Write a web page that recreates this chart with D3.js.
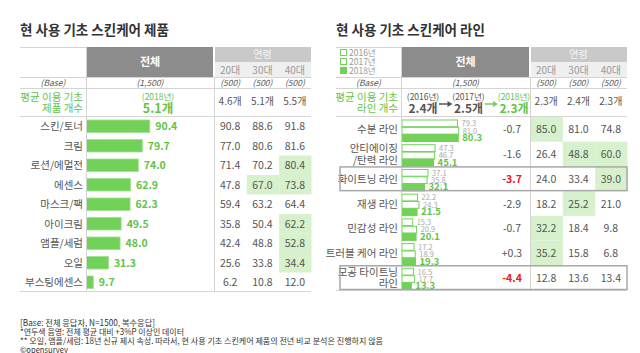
<!DOCTYPE html>
<html>
<head>
<meta charset="utf-8">
<script src="https://cdn.jsdelivr.net/npm/d3@7"></script>
<style>
  body { margin: 0; background: #fff; }
  svg { display: block; font-family: 'Noto Sans CJK KR', 'Noto Sans', sans-serif; }
</style>
</head>
<body>
<script>
// ---- data: left table (products) ----
const products = ['스킨/토너', '크림', '로션/에멀전', '에센스', '마스크/팩', '아이크림', '앰플/세럼', '오일', '부스팅에센스'];
const productTotal = [90.4, 79.7, 74.0, 62.9, 62.3, 49.5, 48.0, 31.3, 9.7];
const product20 = [90.8, 77.0, 71.4, 47.8, 59.4, 35.8, 42.4, 25.6, 6.2];
const product30 = [88.6, 80.6, 70.2, 67.0, 63.2, 50.4, 48.8, 33.8, 10.8];
const product40 = [91.8, 81.6, 80.4, 73.8, 64.4, 62.2, 52.8, 34.4, 12.0];
const productAvgAge = ['4.6개', '5.1개', '5.5개'];

// ---- data: right table (lines) ----
const lines = ['수분 라인', '안티에이징\n/탄력 라인', '화이트닝 라인', '재생 라인', '민감성 라인', '트러블 케어 라인', '모공 타이트닝\n라인'];
const line2016 = [79.3, 47.3, 37.1, 22.2, 15.3, 17.2, 16.5];
const line2017 = [81.0, 46.7, 35.8, 24.3, 20.9, 18.9, 17.7];
const line2018 = [80.3, 45.1, 32.1, 21.5, 20.1, 19.3, 13.3];
const lineDiff = ['-0.7', '-1.6', '-3.7', '-2.9', '-0.7', '+0.3', '-4.4'];
const line20 = [85.0, 26.4, 24.0, 18.2, 32.2, 35.2, 12.8];
const line30 = [81.0, 48.8, 33.4, 25.2, 18.4, 15.8, 13.6];
const line40 = [74.8, 60.0, 39.0, 21.0, 9.8, 6.8, 13.4];
const boxedLines = ['화이트닝 라인', '모공 타이트닝\n라인'];
const lineAvgYears = ['(2016년)', '(2017년)', '(2018년)'];
const lineAvgCounts = ['2.4개', '2.5개', '2.3개'];
const lineAvgAge = ['2.3개', '2.4개', '2.3개'];

const ages = ['20대', '30대', '40대'];
const years = ['2016년', '2017년', '2018년'];
const footnotes = [
  '[Base: 전체 응답자, N=1500, 복수응답]',
  '*연두색 음영: 전체 평균 대비 +3%P 이상인 데이터',
  '** 오일, 앰플/세럼: 18년 신규 제시 속성. 따라서, 현 사용 기초 스킨케어 제품의 전년 비교 분석은 진행하지 않음',
  '©opensurvey'
];
const footWidths = [135, 164, 363, 48];

const GREEN = '#72d158', GREEN_TXT = '#62c446', HILITE = '#d6f1cb', TXT = '#555', LINE = '#d4d4d4';

const svg = d3.select('body').append('svg').attr('width', 640).attr('height', 353);
const barLen = d3.scaleLinear().domain([0, 100]).range([0, 70]);

// shared header drawing
function header(g, x0, c1, c2, x1, title) {
  g.append('text').attr('x', x0).attr('y', 35).attr('font-size', 13.5).attr('font-weight', 700)
    .attr('fill', '#333').text(title);
  g.append('rect').attr('x', c1).attr('y', 47).attr('width', c2 - c1 - 1).attr('height', 30).attr('fill', '#8c8c8c');
  g.append('text').attr('x', (c1 + c2) / 2).attr('y', 66).attr('text-anchor', 'middle')
    .attr('font-size', 11).attr('font-weight', 700).attr('fill', '#fff').text('전체');
  g.append('rect').attr('x', c2 + 1).attr('y', 47).attr('width', x1 - c2 - 1).attr('height', 15).attr('fill', '#c9c9c9');
  g.append('rect').attr('x', c2 + 1).attr('y', 62).attr('width', x1 - c2 - 1).attr('height', 15).attr('fill', '#efefef');
  g.append('text').attr('x', (c2 + x1) / 2).attr('y', 58).attr('text-anchor', 'middle')
    .attr('font-size', 10).attr('fill', '#f4f4f4').text('연령');
  const ax = d3.scaleBand().domain(ages).range([c2, x1]);
  g.selectAll('.agehd').data(ages).enter().append('text')
    .attr('x', d => ax(d) + ax.bandwidth() / 2).attr('y', 74).attr('text-anchor', 'middle')
    .attr('font-size', 10).attr('fill', '#999').text(d => d);
  // base row
  g.append('line').attr('x1', x0).attr('x2', c1).attr('y1', 47.5).attr('y2', 47.5).attr('stroke', LINE);
  g.append('line').attr('x1', x0).attr('x2', x1).attr('y1', 77.5).attr('y2', 77.5).attr('stroke', LINE);
  g.append('line').attr('x1', x0).attr('x2', x1).attr('y1', 88.5).attr('y2', 88.5).attr('stroke', LINE);
  g.append('line').attr('x1', x0).attr('x2', x1).attr('y1', 116.5).attr('y2', 116.5).attr('stroke', LINE);
  const it = g.append('g').attr('font-size', 8.5).attr('font-style', 'italic').attr('fill', TXT).attr('text-anchor', 'middle');
  it.append('text').attr('x', (x0 + c1) / 2).attr('y', 85.5).text('(Base)');
  it.append('text').attr('x', (c1 + c2) / 2).attr('y', 85.5).text('(1,500)');
  ages.forEach(a => it.append('text').attr('x', ax(a) + ax.bandwidth() / 2).attr('y', 85.5).text('(500)'));
  return ax;
}

// ================= LEFT TABLE =================
{
  const x0 = 20, c1 = 86, c2 = 214, x1 = 311;
  const g = svg.append('g');
  const ax = header(g, x0, c1, c2, x1, '현 사용 기초 스킨케어 제품');
  const y = d3.scaleBand().domain(products).range([116.5, 292]);

  // avg row
  g.append('text').attr('x', 83).attr('y', 100.5).attr('text-anchor', 'end').attr('font-size', 10.5).attr('fill', GREEN_TXT).text('평균 이용 기초');
  g.append('text').attr('x', 83).attr('y', 112).attr('text-anchor', 'end').attr('font-size', 10.5).attr('fill', GREEN_TXT).text('제품 개수');
  g.append('text').attr('x', 158).attr('y', 99.5).attr('text-anchor', 'middle').attr('font-size', 8.5).attr('fill', GREEN_TXT).text('(2018년)');
  g.append('text').attr('x', 158).attr('y', 112.5).attr('text-anchor', 'middle').attr('font-size', 12.5).attr('font-weight', 700).attr('fill', GREEN_TXT).text('5.1개');
  g.selectAll('.avgage').data(productAvgAge).enter().append('text')
    .attr('x', (d, i) => ax(ages[i]) + ax.bandwidth() / 2).attr('y', 105).attr('text-anchor', 'middle')
    .attr('font-size', 10).attr('fill', TXT).text(d => d);

  // highlight cells
  const ageVals = [product20, product30, product40];
  products.forEach((p, i) => {
    ageVals.forEach((arr, k) => {
      if (arr[i] >= productTotal[i] + 3) {
        g.append('rect').attr('x', ax(ages[k]) + 0.5).attr('y', y(p)).attr('width', ax.bandwidth()).attr('height', y.bandwidth()).attr('fill', HILITE);
      }
      g.append('text').attr('x', ax(ages[k]) + ax.bandwidth() / 2).attr('y', y(p) + y.bandwidth() / 2 + 4)
        .attr('text-anchor', 'middle').attr('font-size', 10.5).attr('fill', TXT).text(arr[i].toFixed(1));
    });
  });

  // labels + bars
  g.selectAll('.lab').data(products).enter().append('text')
    .attr('x', 83).attr('y', d => y(d) + y.bandwidth() / 2 + 4).attr('text-anchor', 'end')
    .attr('font-size', 10.5).attr('fill', TXT).text(d => d);
  g.selectAll('.bar').data(productTotal).enter().append('rect')
    .attr('x', c1 + 0.5).attr('y', (d, i) => y(products[i]) + y.bandwidth() / 2 - 6.25)
    .attr('width', d => barLen(d)).attr('height', 12.5).attr('fill', GREEN).attr('stroke', '#9fe08c').attr('stroke-width', 0.8);
  g.selectAll('.val').data(productTotal).enter().append('text')
    .attr('x', d => c1 + barLen(d) + 6).attr('y', (d, i) => y(products[i]) + y.bandwidth() / 2 + 4)
    .attr('font-size', 10.5).attr('font-weight', 700).attr('fill', GREEN_TXT).text(d => d.toFixed(1));

  // grid lines
  g.append('line').attr('x1', c1 + 0.5).attr('x2', c1 + 0.5).attr('y1', 47).attr('y2', 292).attr('stroke', LINE);
  g.append('line').attr('x1', c2 + 0.5).attr('x2', c2 + 0.5).attr('y1', 77).attr('y2', 292).attr('stroke', LINE);
  g.append('line').attr('x1', x0).attr('x2', x1).attr('y1', 291.5).attr('y2', 291.5).attr('stroke', LINE);
}

// ================= RIGHT TABLE =================
{
  const x0 = 336, c1 = 401, c2 = 530, x1 = 627;
  const g = svg.append('g');
  const ax = header(g, x0, c1, c2, x1, '현 사용 기초 스킨케어 라인');
  const y = d3.scaleBand().domain(lines).range([117, 290]);
  const yy = d3.scaleBand().domain(years).range([3, 24.5]).paddingInner(0.08);

  // legend
  const lg = g.selectAll('.lg').data(years).enter().append('g')
    .attr('transform', (d, i) => `translate(${x0 + 4},${49 + i * 9})`);
  lg.append('rect').attr('x', 0.5).attr('y', 0.5).attr('width', 6).attr('height', 6)
    .attr('fill', (d, i) => i === 2 ? GREEN : '#fff').attr('stroke', GREEN);
  lg.append('text').attr('x', 9).attr('y', 7).attr('font-size', 8.5).attr('fill', '#999').text(d => d);

  // avg row
  g.append('text').attr('x', 398).attr('y', 100.5).attr('text-anchor', 'end').attr('font-size', 10.5).attr('fill', GREEN_TXT).text('평균 이용 기초');
  g.append('text').attr('x', 398).attr('y', 112).attr('text-anchor', 'end').attr('font-size', 10.5).attr('fill', GREEN_TXT).text('라인 개수');
  const px = d3.scalePoint().domain(lineAvgYears).range([423, 514]);
  lineAvgYears.forEach((t, i) => {
    const col = i === 2 ? GREEN_TXT : '#555';
    g.append('text').attr('x', px(t)).attr('y', 99.5).attr('text-anchor', 'middle').attr('font-size', 8.5).attr('fill', col).text(t);
    g.append('text').attr('x', px(t)).attr('y', 112.5).attr('text-anchor', 'middle').attr('font-size', 12).attr('font-weight', 700).attr('fill', col).text(lineAvgCounts[i]);
    if (i > 0) {
      const ac = i === 2 ? GREEN : '#555';
      const xa = px(lineAvgYears[i - 1]) + 16, xb = px(t) - 16;
      g.append('line').attr('x1', xa).attr('x2', xb - 4).attr('y1', 104).attr('y2', 104).attr('stroke', ac).attr('stroke-width', 1.5);
      g.append('path').attr('d', `M${xb - 5},101 L${xb},104 L${xb - 5},107 Z`).attr('fill', ac);
    }
  });
  g.selectAll('.avgage').data(lineAvgAge).enter().append('text')
    .attr('x', (d, i) => ax(ages[i]) + ax.bandwidth() / 2).attr('y', 105).attr('text-anchor', 'middle')
    .attr('font-size', 10).attr('fill', TXT).text(d => d);

  // highlights + age values
  const ageVals = [line20, line30, line40];
  lines.forEach((l, i) => {
    ageVals.forEach((arr, k) => {
      if (arr[i] >= line2018[i] + 3) {
        g.append('rect').attr('x', ax(ages[k]) + 0.5).attr('y', y(l)).attr('width', ax.bandwidth()).attr('height', y.bandwidth()).attr('fill', HILITE);
      }
      g.append('text').attr('x', ax(ages[k]) + ax.bandwidth() / 2).attr('y', y(l) + y.bandwidth() / 2 + 4)
        .attr('text-anchor', 'middle').attr('font-size', 10.5).attr('fill', TXT).text(arr[i].toFixed(1));
    });
    // diff
    const red = lineDiff[i] === '-3.7' || lineDiff[i] === '-4.4';
    g.append('text').attr('x', 512).attr('y', y(l) + y.bandwidth() / 2 + 4).attr('text-anchor', 'middle')
      .attr('font-size', 10.5).attr('font-weight', red ? 700 : 400).attr('fill', red ? '#f01818' : TXT).text(lineDiff[i]);
    // row label (may be two lines)
    const parts = l.split('\n');
    parts.forEach((p, j) => {
      g.append('text').attr('x', 398).attr('y', y(l) + y.bandwidth() / 2 + 4 + (j - (parts.length - 1) / 2) * 11.5)
        .attr('text-anchor', 'end').attr('font-size', 10.5).attr('fill', TXT).text(p);
    });
    // bars
    const vals = [line2016[i], line2017[i], line2018[i]];
    vals.forEach((v, k) => {
      const by = y(l) + yy(years[k]);
      g.append('rect').attr('x', c1 + 1).attr('y', by).attr('width', barLen(v)).attr('height', yy.bandwidth())
        .attr('fill', k === 2 ? GREEN : '#fff').attr('stroke', GREEN).attr('stroke-width', 1);
      g.append('text').attr('x', c1 + barLen(v) + 5).attr('y', by + yy.bandwidth() - 0.5)
        .attr('font-size', k === 2 ? 9.5 : 7.5).attr('font-weight', k === 2 ? 700 : 400)
        .attr('fill', k === 2 ? GREEN_TXT : '#aaa').text(v.toFixed(1));
    });
  });

  // grid lines
  g.append('line').attr('x1', c1 + 0.5).attr('x2', c1 + 0.5).attr('y1', 47).attr('y2', 290).attr('stroke', LINE);
  g.append('line').attr('x1', c2 + 0.5).attr('x2', c2 + 0.5).attr('y1', 77).attr('y2', 290).attr('stroke', LINE);
  g.append('line').attr('x1', x0).attr('x2', x1).attr('y1', 290.5).attr('y2', 290.5).attr('stroke', LINE);

  // boxed rows
  g.selectAll('.box').data(boxedLines).enter().append('rect')
    .attr('x', 340).attr('y', d => y(d) + 0.5).attr('width', x1 - 340).attr('height', y.bandwidth() - 1)
    .attr('fill', 'none').attr('stroke', '#a8a8a8').attr('stroke-width', 1.5);
}

// ================= FOOTNOTES =================
svg.selectAll('.foot').data(footnotes).enter().append('text')
  .attr('x', 20).attr('y', (d, i) => 325.5 + i * 9)
  .attr('font-size', 8.5).attr('fill', '#333')
  .attr('textLength', (d, i) => footWidths[i]).attr('lengthAdjust', 'spacingAndGlyphs')
  .text(d => d);
</script>
</body>
</html>
